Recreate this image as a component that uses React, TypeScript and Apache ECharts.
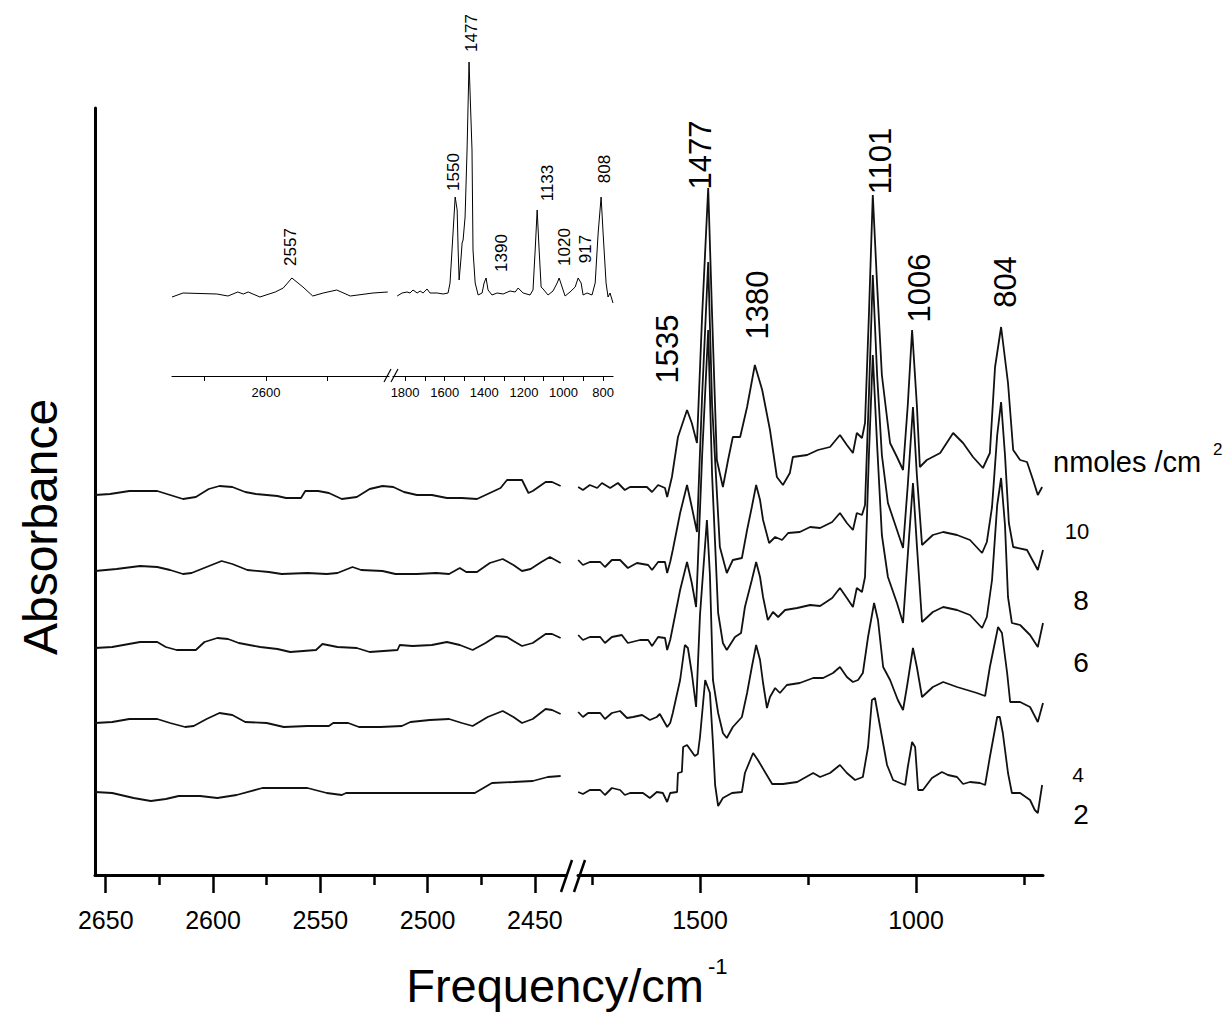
import React, { useEffect, useRef } from 'react';
import * as echarts from 'echarts';

type Pt = [number, number];

// ---- Main chart: IR spectra (frequency cm^-1, absorbance offset, a.u. x1000) ----
// Left segment (2655 - 2435 cm-1)
const s10Left: Pt[] = [[2655,380],[2648,381],[2639,384],[2626,384],[2620,380],[2614,376],[2608,378],[2602,386],[2597,389],[2591,388],[2585,383],[2580,381],[2570,379],[2566,377],[2559,377],[2557,384],[2551,384],[2546,382],[2540,376],[2533,378],[2527,386],[2521,389],[2516,388],[2511,383],[2505,380],[2498,380],[2491,377],[2484,377],[2477,376],[2472,381],[2466,387],[2463,395],[2456,395],[2453,382],[2451,384],[2445,393],[2442,393],[2438,389]];
const s8Left: Pt[] = [[2655,304],[2645,306],[2634,309],[2626,308],[2620,305],[2614,301],[2610,302],[2603,308],[2596,314],[2591,311],[2584,305],[2574,303],[2568,301],[2556,302],[2547,301],[2542,302],[2535,308],[2531,305],[2521,304],[2515,301],[2505,301],[2496,302],[2490,301],[2485,307],[2482,303],[2477,303],[2471,312],[2465,316],[2460,310],[2456,304],[2452,306],[2447,313],[2443,318],[2438,312]];
const s6Left: Pt[] = [[2655,227],[2647,228],[2634,233],[2626,233],[2622,228],[2617,225],[2608,225],[2604,233],[2598,237],[2593,236],[2588,232],[2578,228],[2570,226],[2564,223],[2552,225],[2549,231],[2542,228],[2533,227],[2527,223],[2514,225],[2513,230],[2507,229],[2498,230],[2491,233],[2485,230],[2479,225],[2473,232],[2468,239],[2463,238],[2460,234],[2456,229],[2451,232],[2445,241],[2442,241],[2438,237]];
const s4Left: Pt[] = [[2655,152],[2647,153],[2639,156],[2626,156],[2620,152],[2613,148],[2609,149],[2603,156],[2597,162],[2591,160],[2585,153],[2575,152],[2567,148],[2556,149],[2546,149],[2544,152],[2537,152],[2532,148],[2522,148],[2512,149],[2508,153],[2499,155],[2490,156],[2484,152],[2479,149],[2472,158],[2465,164],[2460,158],[2456,152],[2451,156],[2445,166],[2442,165],[2438,161]];
const s2Left: Pt[] = [[2655,83],[2647,82],[2637,77],[2629,74],[2622,76],[2616,79],[2606,79],[2598,77],[2589,80],[2577,87],[2556,87],[2547,82],[2540,80],[2538,82],[2507,82],[2478,82],[2470,92],[2460,93],[2451,94],[2444,98],[2438,99]];

// Right segment (1782 - 706 cm-1)
const s2Right: Pt[] = [[1782,83],[1771,81],[1755,85],[1731,85],[1720,80],[1704,87],[1685,85],[1674,80],[1662,82],[1632,82],[1616,77],[1600,83],[1586,82],[1576,73],[1569,82],[1553,83],[1551,102],[1542,103],[1539,128],[1530,130],[1512,119],[1505,121],[1500,138],[1488,195],[1477,182],[1470,132],[1465,90],[1458,69],[1447,77],[1426,82],[1403,83],[1396,102],[1377,122],[1366,115],[1333,91],[1308,91],[1275,93],[1238,102],[1222,98],[1199,102],[1176,110],[1160,102],[1141,95],[1123,98],[1111,128],[1102,175],[1095,177],[1083,148],[1067,110],[1053,95],[1037,92],[1025,90],[1019,108],[1009,133],[1002,128],[995,85],[984,85],[963,97],[940,103],[926,100],[905,98],[891,91],[875,93],[852,92],[840,90],[829,118],[812,158],[806,158],[799,142],[787,102],[778,82],[759,82],[736,75],[725,65],[718,62],[708,90]];
const s4Right: Pt[] = [[1782,163],[1771,158],[1759,162],[1731,162],[1720,156],[1704,162],[1685,164],[1669,157],[1655,158],[1634,160],[1616,155],[1600,158],[1593,161],[1576,148],[1569,152],[1563,162],[1546,195],[1535,230],[1528,227],[1519,202],[1509,168],[1500,260],[1484,355],[1477,300],[1470,195],[1458,162],[1447,142],[1438,137],[1424,148],[1403,158],[1391,182],[1380,208],[1370,230],[1361,215],[1354,192],[1345,167],[1338,178],[1326,187],[1315,182],[1299,190],[1269,192],[1238,197],[1215,197],[1192,202],[1176,208],[1160,198],[1146,193],[1134,195],[1123,202],[1111,238],[1097,272],[1088,255],[1076,208],[1060,195],[1042,175],[1030,165],[1021,188],[1007,227],[998,208],[986,178],[961,188],[937,193],[905,188],[882,185],[859,182],[840,179],[829,208],[810,248],[801,242],[789,202],[782,173],[759,173],[736,168],[718,153],[706,172]];
const s6Right: Pt[] = [[1782,240],[1771,235],[1755,238],[1731,238],[1720,232],[1704,238],[1681,240],[1667,232],[1639,235],[1620,235],[1611,229],[1597,238],[1581,237],[1576,225],[1569,235],[1563,248],[1546,285],[1530,313],[1519,292],[1509,268],[1495,420],[1481,545],[1472,400],[1458,262],[1447,232],[1438,225],[1419,238],[1405,242],[1396,268],[1380,295],[1370,313],[1361,298],[1354,278],[1343,255],[1331,263],[1319,258],[1303,265],[1275,267],[1245,270],[1222,269],[1194,277],[1176,287],[1160,277],[1146,268],[1137,287],[1125,283],[1118,298],[1109,420],[1100,520],[1090,430],[1079,340],[1065,298],[1044,272],[1030,252],[1019,320],[1007,392],[998,330],[986,253],[961,263],[937,268],[905,265],[875,260],[847,247],[836,258],[824,295],[812,370],[803,397],[794,350],[787,278],[778,252],[759,250],[736,240],[718,228],[706,252]];
const s8Right: Pt[] = [[1782,315],[1771,310],[1755,313],[1731,313],[1720,308],[1704,315],[1685,315],[1667,307],[1646,312],[1620,310],[1611,305],[1597,313],[1581,313],[1576,302],[1569,313],[1563,325],[1546,362],[1530,390],[1519,368],[1507,343],[1495,480],[1481,613],[1472,470],[1454,328],[1438,302],[1424,315],[1403,317],[1391,345],[1380,368],[1370,390],[1361,375],[1354,355],[1340,332],[1326,338],[1310,335],[1296,342],[1269,343],[1245,348],[1222,347],[1194,353],[1176,362],[1160,352],[1146,345],[1137,362],[1125,360],[1118,370],[1109,480],[1100,600],[1090,500],[1079,420],[1065,372],[1044,345],[1030,327],[1019,390],[1007,468],[998,400],[986,330],[961,340],[937,343],[905,340],[875,335],[847,322],[836,333],[824,368],[812,440],[803,473],[794,420],[785,352],[775,328],[743,325],[718,305],[706,325]];
const s10Right: Pt[] = [[1782,388],[1771,385],[1755,390],[1738,387],[1727,392],[1708,387],[1690,392],[1674,385],[1662,388],[1623,388],[1611,383],[1597,390],[1581,387],[1576,378],[1565,398],[1551,438],[1530,465],[1519,452],[1507,432],[1495,560],[1481,687],[1472,560],[1461,415],[1447,388],[1435,415],[1424,438],[1407,438],[1391,468],[1373,510],[1356,485],[1338,445],[1322,398],[1308,390],[1292,402],[1285,418],[1252,420],[1227,425],[1199,428],[1176,440],[1160,430],[1146,422],[1137,442],[1125,437],[1118,452],[1109,560],[1100,680],[1090,590],[1079,500],[1060,432],[1044,418],[1030,405],[1019,470],[1009,545],[998,470],[991,408],[975,415],[944,422],[914,442],[891,432],[868,418],[845,407],[829,422],[817,508],[803,548],[787,492],[775,425],[759,415],[743,413],[729,395],[718,380],[708,388]];

// ---- Inset spectrum ----
const insetLeft: Pt[] = [[2753,79],[2735,83],[2680,82],[2662,80],[2646,84],[2637,82],[2629,84],[2610,79],[2585,84],[2572,88],[2558,98],[2540,89],[2524,80],[2507,83],[2485,86],[2463,80],[2426,83],[2402,84]];
const insetRight: Pt[] = [[1840,80],[1815,83],[1790,84],[1775,83],[1760,86],[1739,83],[1724,85],[1709,83],[1689,87],[1674,83],[1638,83],[1608,82],[1583,83],[1573,93],[1563,126],[1547,179],[1537,166],[1532,126],[1527,96],[1517,119],[1512,133],[1507,136],[1497,159],[1487,226],[1477,314],[1462,226],[1457,126],[1446,93],[1431,81],[1411,83],[1401,93],[1391,98],[1381,86],[1361,81],[1335,83],[1305,82],[1270,85],[1244,84],[1229,88],[1204,83],[1169,81],[1154,86],[1143,126],[1133,166],[1123,126],[1113,89],[1103,87],[1078,81],[1053,85],[1032,93],[1022,98],[1007,89],[992,80],[967,84],[941,89],[926,98],[911,93],[901,81],[881,83],[856,81],[840,93],[825,143],[810,179],[800,143],[785,93],[775,79],[765,83],[750,73]];

// ---- Ticks and labels ----
const mainLeftMajor = [2650, 2600, 2550, 2500, 2450];
const mainLeftMinor = [2625, 2575, 2525, 2475];
const mainRightMajor = [1500, 1000];
const mainRightMinor = [1750, 1250, 750];
const insetLeftTicks = [2700, 2600, 2500];
const insetLeftLabels = [2600];
const insetRightTicks = [1800, 1700, 1600, 1500, 1400, 1300, 1200, 1100, 1000, 900, 800];
const insetRightLabels = [1800, 1600, 1400, 1200, 1000, 800];

const mainPeakLabels = ['1535', '1477', '1380', '1101', '1006', '804'];
const insetPeakLabels = ['2557', '1550', '1477', '1390', '1133', '1020', '917', '808'];
const coverageLabels = ['10', '8', '6', '4', '2'];

const FONT = '"Liberation Sans", Arial, Helvetica, sans-serif';

// layout (pixel positions of annotation texts)
const mainPeakPos: [number, number][] = [[667, 349], [700, 155], [757, 305], [880, 161], [919, 288], [1005, 282]];
const insetPeakPos: [number, number][] = [[290, 247], [453, 172], [471, 33], [501, 253], [547, 183], [564, 247], [585, 249], [604, 169]];
const coveragePos: [number, number, number][] = [[1077, 531, 22], [1081, 600, 28], [1081, 662, 28], [1078, 774, 21], [1081, 814, 28]];

function rotText(text: string, x: number, y: number, size: number) {
  return {
    type: 'text', x, y, rotation: Math.PI / 2, silent: true,
    style: { text, fontSize: size, fontFamily: FONT, fill: '#000', align: 'center', verticalAlign: 'middle', textAlign: 'center', textVerticalAlign: 'middle' },
  };
}
function plainText(text: string, x: number, y: number, size: number, align = 'center') {
  return {
    type: 'text', x, y, silent: true,
    style: { text, fontSize: size, fontFamily: FONT, fill: '#000', align, verticalAlign: 'middle', textAlign: align, textVerticalAlign: 'middle' },
  };
}

const plain = (v: number) => String(v);

export default function App() {
  const ref = useRef<HTMLDivElement>(null);
  useEffect(() => {
    document.body.style.margin = '0';
    const chart = echarts.init(ref.current!, undefined, { renderer: 'svg', width: 1228, height: 1015 });

    const mainLine = (data: Pt[], xi: number, yi: number) => ({
      type: 'line', data, xAxisIndex: xi, yAxisIndex: yi, showSymbol: false, symbol: 'none', silent: true,
      lineStyle: { color: '#111', width: 1.8 }, clip: true,
    });
    const insetLine = (data: Pt[], xi: number, yi: number) => ({
      type: 'line', data, xAxisIndex: xi, yAxisIndex: yi, showSymbol: false, symbol: 'none', silent: true,
      lineStyle: { color: '#000', width: 1 }, clip: true,
    });

    const mainLabel = { color: '#000', fontFamily: FONT, fontSize: 25, margin: 32, formatter: plain };
    const insetLabel = { color: '#000', fontFamily: FONT, fontSize: 13, margin: 10, formatter: plain };

    const xAxisBase = (grid: number, min: number, max: number) => ({
      type: 'value', gridIndex: grid, min, max, inverse: true, position: 'bottom',
      splitLine: { show: false },
    });

    const option: any = {
      animation: false,
      backgroundColor: '#fff',
      grid: [
        { left: 95, top: 108, width: 471, height: 767, outerBoundsMode: 'none' },
        { left: 578, top: 108, width: 465, height: 767, outerBoundsMode: 'none' },
        { left: 172, top: 40, width: 217, height: 336, outerBoundsMode: 'none' },
        { left: 393, top: 40, width: 220, height: 336, outerBoundsMode: 'none' },
      ],
      xAxis: [
        {
          ...xAxisBase(0, 2435.5, 2655),
          axisLine: { show: true, onZero: false, lineStyle: { color: '#000', width: 3 } },
          axisTick: { show: true, length: 18, customValues: mainLeftMajor, lineStyle: { color: '#000', width: 2.5 } },
          axisLabel: { ...mainLabel, customValues: mainLeftMajor },
        },
        {
          ...xAxisBase(0, 2435.5, 2655),
          axisLine: { show: false, onZero: false },
          axisTick: { show: true, length: 10, customValues: mainLeftMinor, lineStyle: { color: '#000', width: 2.5 } },
          axisLabel: { show: false },
        },
        {
          ...xAxisBase(1, 706, 1782.4),
          axisLine: { show: true, onZero: false, lineStyle: { color: '#000', width: 3 } },
          axisTick: { show: true, length: 18, customValues: mainRightMajor, lineStyle: { color: '#000', width: 2.5 } },
          axisLabel: { ...mainLabel, customValues: mainRightMajor },
        },
        {
          ...xAxisBase(1, 706, 1782.4),
          axisLine: { show: false, onZero: false },
          axisTick: { show: true, length: 10, customValues: mainRightMinor, lineStyle: { color: '#000', width: 2.5 } },
          axisLabel: { show: false },
        },
        {
          ...xAxisBase(2, 2400, 2753),
          axisLine: { show: true, onZero: false, lineStyle: { color: '#000', width: 1.2 } },
          axisTick: { show: true, length: 5, customValues: insetLeftTicks, lineStyle: { color: '#000', width: 1 } },
          axisLabel: { ...insetLabel, customValues: insetLeftLabels },
        },
        {
          ...xAxisBase(3, 750, 1861),
          axisLine: { show: true, onZero: false, lineStyle: { color: '#000', width: 1.2 } },
          axisTick: { show: true, length: 5, customValues: insetRightTicks, lineStyle: { color: '#000', width: 1 } },
          axisLabel: { ...insetLabel, customValues: insetRightLabels },
        },
      ],
      yAxis: [
        {
          type: 'value', gridIndex: 0, min: 0, max: 767,
          axisLine: { show: true, onZero: false, lineStyle: { color: '#000', width: 3 } },
          axisTick: { show: false }, axisLabel: { show: false }, splitLine: { show: false },
        },
        { type: 'value', gridIndex: 1, min: 0, max: 767, show: false },
        { type: 'value', gridIndex: 2, min: 0, max: 336, show: false },
        { type: 'value', gridIndex: 3, min: 0, max: 336, show: false },
      ],
      series: [
        mainLine(s10Left, 0, 0), mainLine(s8Left, 0, 0), mainLine(s6Left, 0, 0), mainLine(s4Left, 0, 0), mainLine(s2Left, 0, 0),
        mainLine(s10Right, 2, 1), mainLine(s8Right, 2, 1), mainLine(s6Right, 2, 1), mainLine(s4Right, 2, 1), mainLine(s2Right, 2, 1),
        insetLine(insetLeft, 4, 2), insetLine(insetRight, 5, 3),
      ],
      graphic: {
        elements: [
          // axis break marks
          { type: 'line', silent: true, shape: { x1: 561, y1: 892, x2: 572, y2: 860 }, style: { stroke: '#000', lineWidth: 2.5 } },
          { type: 'line', silent: true, shape: { x1: 574, y1: 892, x2: 585, y2: 860 }, style: { stroke: '#000', lineWidth: 2.5 } },
          { type: 'line', silent: true, shape: { x1: 384, y1: 382, x2: 391, y2: 369 }, style: { stroke: '#000', lineWidth: 1.2 } },
          { type: 'line', silent: true, shape: { x1: 391, y1: 382, x2: 398, y2: 369 }, style: { stroke: '#000', lineWidth: 1.2 } },
          // axis titles
          rotText('Absorbance', 40, 527, 48),
          plainText('Frequency/cm', 704, 985, 47, 'right'),
          plainText('-1', 708, 966, 22, 'left'),
          // coverage legend
          plainText('nmoles /cm', 1053, 462, 29, 'left'),
          plainText('2', 1213, 449, 17, 'left'),
          ...coverageLabels.map((t, i) => plainText(t, coveragePos[i][0], coveragePos[i][1], coveragePos[i][2])),
          // peak labels
          ...mainPeakLabels.map((t, i) => rotText(t, mainPeakPos[i][0], mainPeakPos[i][1], 31)),
          ...insetPeakLabels.map((t, i) => rotText(t, insetPeakPos[i][0], insetPeakPos[i][1], 17)),
        ],
      },
    };
    chart.setOption(option);
    return () => chart.dispose();
  }, []);
  return <div ref={ref} style={{ width: 1228, height: 1015, background: '#fff' }} />;
}
